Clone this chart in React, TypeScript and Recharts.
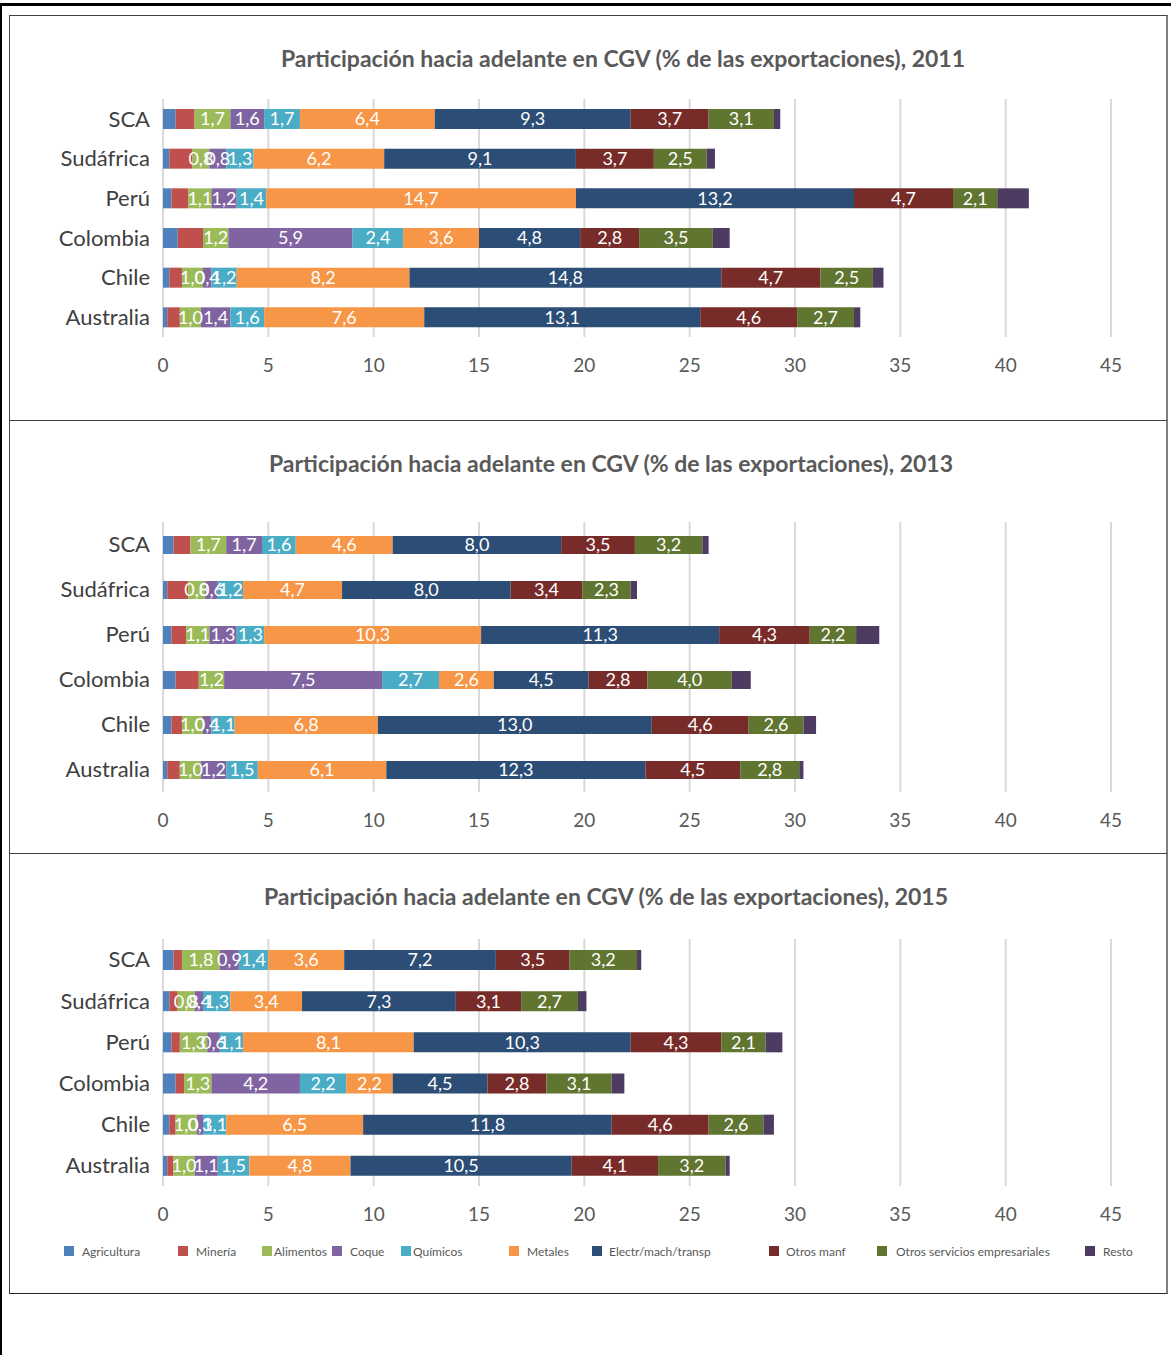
import React from "react";
import {
  BarChart,
  Bar,
  XAxis,
  YAxis,
  CartesianGrid,
  LabelList,
} from "recharts";

const FONT = "Lato, 'Noto Sans', sans-serif";

// countries, top to bottom
const countries = ["SCA", "Sudáfrica", "Perú", "Colombia", "Chile", "Australia"];

const sectorKeys = [
  "agricultura",
  "mineria",
  "alimentos",
  "coque",
  "quimicos",
  "metales",
  "electr",
  "otrosManf",
  "otrosServ",
  "resto",
];
const sectorNames = [
  "Agricultura",
  "Minería",
  "Alimentos",
  "Coque",
  "Químicos",
  "Metales",
  "Electr/mach/transp",
  "Otros manf",
  "Otros servicios empresariales",
  "Resto",
];
const sectorColors = [
  "#4f81bd",
  "#c0504d",
  "#9bbb59",
  "#8064a2",
  "#4bacc6",
  "#f79646",
  "#2c4d75",
  "#772c2a",
  "#5f7530",
  "#4d3b62",
];
// sectors that carry a value label inside the bar
const labelled = [false, false, true, true, true, true, true, true, true, false];

const xTicks = [0, 5, 10, 15, 20, 25, 30, 35, 40, 45];

// one row per sector, values in country order
const shares2011 = [
  [0.6, 0.3, 0.4, 0.7, 0.3, 0.2],
  [0.9, 1.1, 0.8, 1.2, 0.6, 0.6],
  [1.7, 0.8, 1.1, 1.2, 1.0, 1.0],
  [1.6, 0.8, 1.2, 5.9, 0.4, 1.4],
  [1.7, 1.3, 1.4, 2.4, 1.2, 1.6],
  [6.4, 6.2, 14.7, 3.6, 8.2, 7.6],
  [9.3, 9.1, 13.2, 4.8, 14.8, 13.1],
  [3.7, 3.7, 4.7, 2.8, 4.7, 4.6],
  [3.1, 2.5, 2.1, 3.5, 2.5, 2.7],
  [0.3, 0.4, 1.5, 0.8, 0.5, 0.3],
];

const shares2013 = [
  [0.5, 0.2, 0.4, 0.6, 0.4, 0.2],
  [0.8, 1.0, 0.7, 1.1, 0.5, 0.6],
  [1.7, 0.8, 1.1, 1.2, 1.0, 1.0],
  [1.7, 0.6, 1.3, 7.5, 0.4, 1.2],
  [1.6, 1.2, 1.3, 2.7, 1.1, 1.5],
  [4.6, 4.7, 10.3, 2.6, 6.8, 6.1],
  [8.0, 8.0, 11.3, 4.5, 13.0, 12.3],
  [3.5, 3.4, 4.3, 2.8, 4.6, 4.5],
  [3.2, 2.3, 2.2, 4.0, 2.6, 2.8],
  [0.3, 0.3, 1.1, 0.9, 0.6, 0.2],
];

const shares2015 = [
  [0.5, 0.3, 0.4, 0.6, 0.3, 0.2],
  [0.4, 0.4, 0.4, 0.4, 0.3, 0.3],
  [1.8, 0.8, 1.3, 1.3, 1.0, 1.0],
  [0.9, 0.4, 0.6, 4.2, 0.3, 1.1],
  [1.4, 1.3, 1.1, 2.2, 1.1, 1.5],
  [3.6, 3.4, 8.1, 2.2, 6.5, 4.8],
  [7.2, 7.3, 10.3, 4.5, 11.8, 10.5],
  [3.5, 3.1, 4.3, 2.8, 4.6, 4.1],
  [3.2, 2.7, 2.1, 3.1, 2.6, 3.2],
  [0.2, 0.4, 0.8, 0.6, 0.5, 0.2],
];

const buildRows = (shares: number[][]) =>
  countries.map((country, i) => {
    const row: Record<string, string | number> = { country };
    sectorKeys.forEach((k, s) => {
      row[k] = shares[s][i];
    });
    return row;
  });

const fmt = (v: any) => Number(v).toFixed(1).replace(".", ",");

type PanelProps = {
  year: number;
  shares: number[][];
  titleY: number;
  titleX: number;
  plotTop: number;
  plotBottom: number;
  barSize: number;
};

const Panel = ({ year, shares, titleY, titleX, plotTop, plotBottom, barSize }: PanelProps) => {
  const data = buildRows(shares);
  const chartTop = plotTop - 20;
  const height = plotBottom - plotTop + 20 + 45;
  return (
    <>
      <div
        style={{
          position: "absolute",
          left: titleX - 400,
          width: 800,
          top: titleY - 15,
          height: 30,
          lineHeight: "30px",
          textAlign: "center",
          fontFamily: FONT,
          fontWeight: 700,
          fontSize: 23,
          color: "#595959",
        }}
      >
        Participación hacia adelante en CGV (% de las exportaciones), {year}
      </div>
      <div style={{ position: "absolute", left: 10, top: chartTop }}>
        <BarChart
          layout="vertical"
          width={1157}
          height={height}
          data={data}
          barSize={barSize}
          margin={{ top: 20, right: 56, left: 0, bottom: 0 }}
        >
          <CartesianGrid horizontal={false} stroke="#d9d9d9" strokeWidth={2} />
          <XAxis
            type="number"
            domain={[0, 45]}
            ticks={xTicks}
            axisLine={false}
            tickLine={false}
            tickMargin={16}
            height={45}
            tick={{ fontSize: 19, fill: "#595959", fontFamily: FONT }}
          />
          <YAxis
            type="category"
            dataKey="country"
            width={153}
            axisLine={false}
            tickLine={false}
            tickMargin={7}
            tick={{ fontSize: 22, fill: "#404040", fontFamily: FONT }}
          />
          {sectorKeys.map((k, s) => (
            <Bar
              key={k}
              dataKey={k}
              name={sectorNames[s]}
              stackId="a"
              fill={sectorColors[s]}
              isAnimationActive={false}
            >
              {labelled[s] && (
                <LabelList
                  dataKey={k}
                  position="center"
                  formatter={fmt}
                  fill="#ffffff"
                  fontSize={18}
                  fontFamily={FONT}
                />
              )}
            </Bar>
          ))}
        </BarChart>
      </div>
    </>
  );
};

// legend item x positions and swatch-to-text gaps along the bottom row
const legendX = [64, 178, 262, 332, 401, 509, 592, 769, 877, 1085];
const legendGap = [8, 8, 2, 8, 2, 8, 7, 7, 9, 8];

const Legend = () => (
  <>
    {sectorNames.map((name, s) => (
      <div
        key={name}
        style={{
          position: "absolute",
          left: legendX[s],
          top: 1244,
          height: 14,
          display: "flex",
          alignItems: "center",
          fontFamily: FONT,
          fontSize: 12,
          color: "#595959",
          whiteSpace: "nowrap",
        }}
      >
        <span
          style={{
            display: "inline-block",
            width: 10,
            height: 10,
            background: sectorColors[s],
            marginRight: legendGap[s],
          }}
        />
        {name}
      </div>
    ))}
  </>
);

export default function App() {
  return (
    <div
      style={{
        position: "absolute",
        left: 0,
        top: 0,
        width: 1171,
        height: 1355,
        background: "#ffffff",
        overflow: "hidden",
      }}
    >
      {/* outer frame */}
      <div style={{ position: "absolute", left: 0, top: 3, width: 1171, height: 3, background: "#000" }} />
      <div style={{ position: "absolute", left: 0, top: 3, width: 2, height: 1352, background: "#000" }} />
      {/* panel box */}
      <div
        style={{
          position: "absolute",
          left: 9,
          top: 15,
          width: 1156,
          height: 1277,
          borderTop: "1px solid #404040",
          borderLeft: "1px solid #404040",
          borderBottom: "1px solid #262626",
          borderRight: "2px solid #7f7f7f",
        }}
      />
      <div style={{ position: "absolute", left: 10, top: 420, width: 1157, height: 1, background: "#404040" }} />
      <div style={{ position: "absolute", left: 10, top: 853, width: 1157, height: 1, background: "#404040" }} />

      <Panel year={2011} shares={shares2011} titleY={58} titleX={623} plotTop={99} plotBottom={337} barSize={20} />
      <Panel year={2013} shares={shares2013} titleY={463} titleX={611} plotTop={522} plotBottom={792} barSize={18} />
      <Panel year={2015} shares={shares2015} titleY={896} titleX={606} plotTop={939} plotBottom={1186} barSize={20} />
      <Legend />
    </div>
  );
}
